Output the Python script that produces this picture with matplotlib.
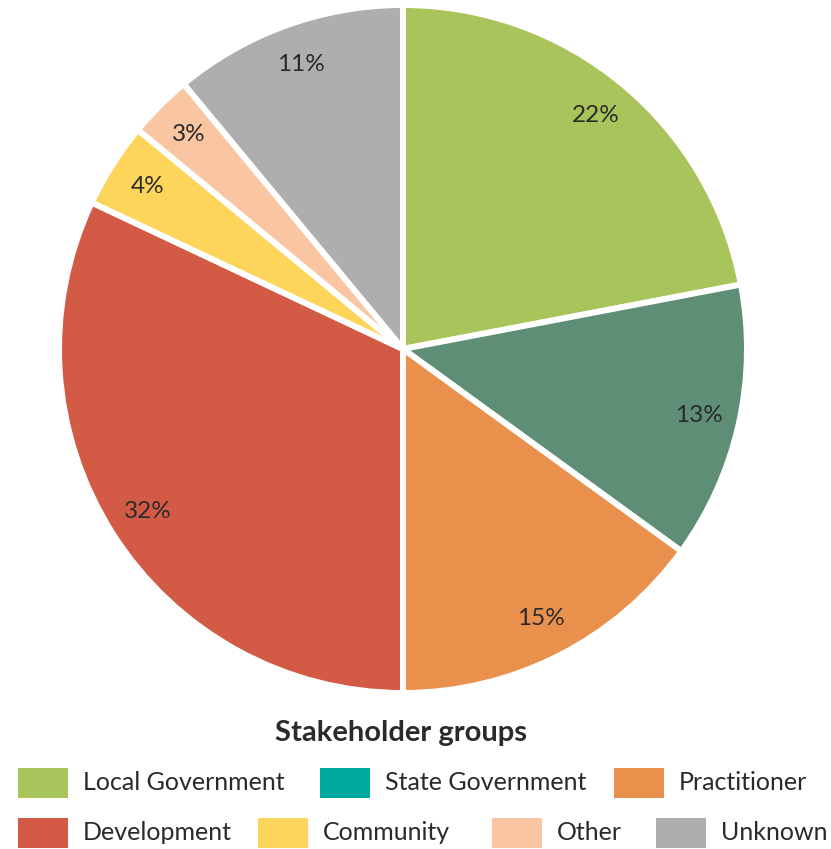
import matplotlib
matplotlib.use("Agg")
import matplotlib.pyplot as plt
from matplotlib.patches import Rectangle

# share of responses by stakeholder group
groups = ["Local Government", "State Government", "Practitioner", "Development",
          "Community", "Other", "Unknown"]
shares = [22, 13, 15, 32, 4, 3, 11]
pie_colors = ["#A9C45A", "#5E8F76", "#EA904D", "#D35B45", "#FED55B", "#FAC6A1", "#AEAEAE"]
legend_colors = ["#A9C45A", "#00A99D", "#EA904D", "#D35B45", "#FED55B", "#FAC6A1", "#AEAEAE"]

plt.rcParams["font.family"] = ["Lato", "DejaVu Sans"]
text_color = "#2a2a2a"

W, H = 831, 849
fig = plt.figure(figsize=(W / 100, H / 100), dpi=100)

# pie placed by pixel centre and radius
cx, cy, r = 403, 349, 344
ax = fig.add_axes([(cx - r) / W, (H - cy - r) / H, 2 * r / W, 2 * r / H])
wedges, texts, autotexts = ax.pie(
    shares, colors=pie_colors, startangle=90, counterclock=False,
    autopct=lambda p: f"{p:.0f}%", pctdistance=0.88,
    wedgeprops=dict(edgecolor="white", linewidth=4.3),
    textprops=dict(fontsize=17.5, color=text_color))
ax.set_xlim(-1, 1)
ax.set_ylim(-1, 1)
ax.axis("off")

# legend laid out in pixel coordinates
lg = fig.add_axes([0, 0, 1, 1])
lg.set_xlim(0, W)
lg.set_ylim(H, 0)
lg.axis("off")
lg.text(401, 733, "Stakeholder groups", ha="center", va="center",
        fontsize=21, fontweight="bold", color=text_color)

rows = [(783, [0, 1, 2], [18, 320, 614]),
        (833, [3, 4, 5, 6], [18, 258, 492, 656])]
for y, idx, xs in rows:
    for i, x in zip(idx, xs):
        lg.add_patch(Rectangle((x, y - 15), 50, 30, color=legend_colors[i], lw=0))
        lg.text(x + 65, y, groups[i], ha="left", va="center",
                fontsize=18, color=text_color)

fig.savefig("out.png", dpi=100)
